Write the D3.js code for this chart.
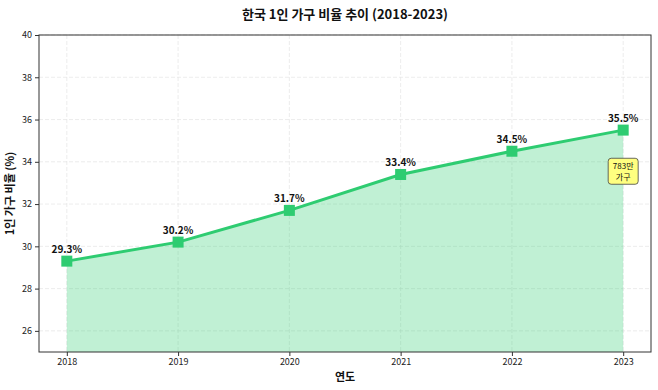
<!DOCTYPE html>
<html><head><meta charset="utf-8">
<script src="https://cdn.jsdelivr.net/npm/d3@7"></script>
<style>body{margin:0;background:#fff}text{font-family:"Noto Sans CJK KR","Noto Sans",sans-serif}</style>
</head><body>
<svg id="c" width="658" height="390"></svg>
<script>
const years = [2018, 2019, 2020, 2021, 2022, 2023];
const ratios = [29.3, 30.2, 31.7, 33.4, 34.5, 35.5];
const yTicks = [26, 28, 30, 32, 34, 36, 38, 40];
const title = "한국 1인 가구 비율 추이 (2018-2023)";
const xLabel = "연도";
const yLabel = "1인 가구 비율 (%)";
const note = ["783만", "가구"];

const svg = d3.select("#c");
const m = {l: 39, r: 7, t: 35, b: 38};
const W = 658, H = 390;
const x = d3.scaleLinear().domain([2017.75, 2023.25]).range([m.l, W - m.r]);
const y = d3.scaleLinear().domain([25, 40]).range([H - m.b, m.t]);
const data = years.map((d, i) => ({year: d, v: ratios[i]}));

// grid
const g = svg.append("g");
g.selectAll(".gx").data(years).join("line")
  .attr("x1", d => x(d)).attr("x2", d => x(d)).attr("y1", m.t).attr("y2", H - m.b)
  .attr("stroke", "#e4e4e4").attr("stroke-dasharray", "4,2").attr("stroke-width", 0.7);
g.selectAll(".gy").data(yTicks).join("line")
  .attr("x1", m.l).attr("x2", W - m.r).attr("y1", d => y(d)).attr("y2", d => y(d))
  .attr("stroke", "#e4e4e4").attr("stroke-dasharray", "4,2").attr("stroke-width", 0.7);

// area
svg.append("path").datum(data)
  .attr("d", d3.area().x(d => x(d.year)).y0(y(25)).y1(d => y(d.v)))
  .attr("fill", "#2ecc71").attr("fill-opacity", 0.3);

// line
svg.append("path").datum(data)
  .attr("d", d3.line().x(d => x(d.year)).y(d => y(d.v)))
  .attr("fill", "none").attr("stroke", "#2ecc71").attr("stroke-width", 3);

svg.selectAll(".pt").data(data).join("rect")
  .attr("x", d => x(d.year) - 5.5).attr("y", d => y(d.v) - 5.5)
  .attr("width", 11).attr("height", 11).attr("fill", "#2ecc71");

svg.selectAll(".lbl").data(data).join("text")
  .attr("x", d => x(d.year)).attr("y", d => y(d.v) - 8)
  .attr("text-anchor", "middle").attr("font-size", 10).attr("font-weight", "bold")
  .attr("fill", "#111").text(d => d.v.toFixed(1) + "%");

// axes
const xa = svg.append("g").attr("transform", `translate(0,${H - m.b})`)
  .call(d3.axisBottom(x).tickValues(years).tickFormat(d3.format("d")).tickSize(4).tickSizeOuter(0));
const ya = svg.append("g").attr("transform", `translate(${m.l},0)`)
  .call(d3.axisLeft(y).tickValues(yTicks).tickSize(4).tickSizeOuter(0));
[xa, ya].forEach(a => {
  a.selectAll("text").attr("font-size", 9).attr("fill", "#222").attr("font-family", '"Noto Sans CJK KR","Noto Sans",sans-serif');
  a.select(".domain").remove();
  a.selectAll(".tick line").attr("stroke", "#333");
});
svg.append("rect").attr("x", m.l).attr("y", m.t).attr("width", W - m.r - m.l).attr("height", H - m.b - m.t)
  .attr("fill", "none").attr("stroke", "#333").attr("stroke-width", 1);

// annotation
const last = data[data.length - 1];
const ax = x(last.year), ay = y(33.6);
svg.append("rect").attr("x", ax - 15).attr("y", ay - 12).attr("width", 30).attr("height", 26)
  .attr("rx", 3).attr("fill", "#ffff80").attr("stroke", "#444").attr("stroke-width", 0.8);
svg.append("text").attr("x", ax).attr("y", ay - 1).attr("text-anchor", "middle")
  .attr("font-size", 8).attr("fill", "#111").text(note[0]);
svg.append("text").attr("x", ax).attr("y", ay + 10).attr("text-anchor", "middle")
  .attr("font-size", 8).attr("fill", "#111").text(note[1]);

// titles
svg.append("text").attr("x", (m.l + W - m.r) / 2).attr("y", 19).attr("text-anchor", "middle")
  .attr("font-size", 13).attr("font-weight", "bold").attr("fill", "#111").text(title);
svg.append("text").attr("x", (m.l + W - m.r) / 2).attr("y", 381).attr("text-anchor", "middle")
  .attr("font-size", 11).attr("font-weight", "bold").attr("fill", "#111").text(xLabel);
svg.append("text").attr("transform", `translate(14,${(m.t + H - m.b) / 2}) rotate(-90)`)
  .attr("text-anchor", "middle").attr("font-size", 11).attr("font-weight", "bold").attr("fill", "#111").text(yLabel);
</script>
</body></html>
